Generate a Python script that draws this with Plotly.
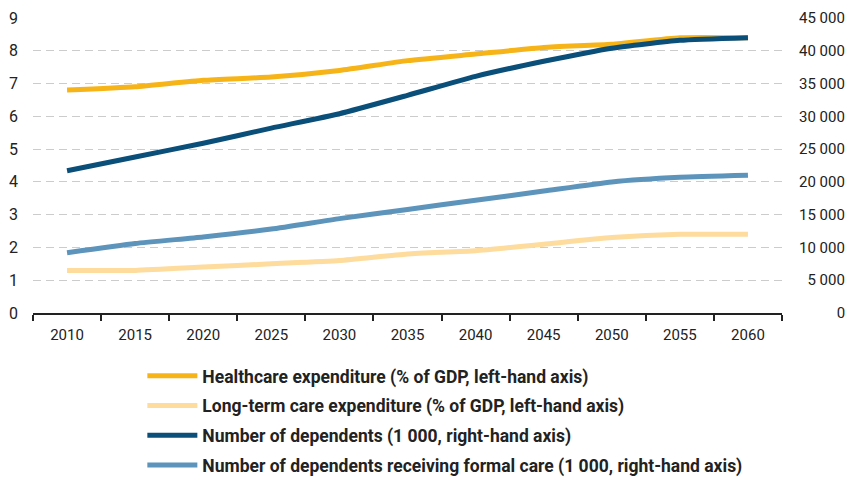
import plotly.graph_objects as go

years = ["2010", "2015", "2020", "2025", "2030", "2035", "2040", "2045", "2050", "2055", "2060"]
healthcare_pct_gdp = [6.8, 6.9, 7.1, 7.2, 7.4, 7.7, 7.9, 8.1, 8.2, 8.4, 8.4]
ltc_pct_gdp = [1.3, 1.3, 1.4, 1.5, 1.6, 1.8, 1.9, 2.1, 2.3, 2.4, 2.4]
dependents_k = [21700, 23800, 25900, 28200, 30400, 33200, 36100, 38400, 40400, 41600, 42000]
formal_care_k = [9200, 10600, 11600, 12800, 14400, 15800, 17200, 18600, 20000, 20700, 21000]
right_ticks = [0, 5000, 10000, 15000, 20000, 25000, 30000, 35000, 40000, 45000]

names = [
    "Healthcare expenditure (% of GDP, left-hand axis)",
    "Long-term care expenditure (% of GDP, left-hand axis)",
    "Number of dependents (1 000, right-hand axis)",
    "Number of dependents receiving formal care (1 000, right-hand axis)",
]
colors = ["#F7B418", "#FDDC9E", "#0A4E7A", "#5D94BC"]


def right_label(v):
    # thousands separated by a space, padded on the left so labels look right-aligned
    s = f"{v:,}".replace(",", " ")
    digits = sum(c.isdigit() for c in s)
    spaces = s.count(" ")
    return "\u2007" * (5 - digits) + "\u2008" * (1 - spaces) + s


fig = go.Figure()
series = [(healthcare_pct_gdp, "y"), (ltc_pct_gdp, "y"), (dependents_k, "y2"), (formal_care_k, "y2")]
for i, (vals, ax) in enumerate(series):
    fig.add_trace(go.Scatter(
        x=years, y=vals, name=names[i], mode="lines", yaxis=ax,
        line=dict(color=colors[i], width=5, shape="spline", smoothing=0.5),
        legendgroup=f"g{i}",
    ))

font_fam = "Roboto, Noto Sans, sans-serif"
fig.update_layout(
    width=853, height=477,
    margin=dict(l=33, r=71, t=18, b=164, autoexpand=False),
    plot_bgcolor="white", paper_bgcolor="white",
    font=dict(family=font_fam, size=15, color="#222222"),
    showlegend=True,
    legend=dict(
        x=0.146, xanchor="left", y=0.2495, yref="container", yanchor="top",
        orientation="v", tracegroupgap=4,
        font=dict(family=font_fam, size=17.5, color="#222222", weight="bold"),
        itemwidth=50,
    ),
    xaxis=dict(
        type="category", tickson="boundaries", range=[-0.5, 10.5], showline=True,
        linecolor="#222222", linewidth=2, ticks="outside", ticklen=6, tickwidth=2,
        tickcolor="#222222", showgrid=False, zeroline=False, tickfont=dict(size=15),
        ticklabelstandoff=7,
    ),
    yaxis=dict(
        range=[0, 9], dtick=1, showgrid=True, gridcolor="#cccccc", griddash="8px,5px",
        gridwidth=1, zeroline=False, showline=False, ticks="", tickfont=dict(size=16),
        ticklabelstandoff=14,
    ),
    yaxis2=dict(
        range=[0, 45000], overlaying="y", side="right", showgrid=False,
        tickvals=right_ticks, ticktext=[right_label(v) for v in right_ticks],
        zeroline=False, showline=False, tickfont=dict(size=15),
        ticklabelstandoff=16,
    ),
)

fig.write_html("out.html", config={"displayModeBar": False},
               post_script="document.body.style.margin='0';")
